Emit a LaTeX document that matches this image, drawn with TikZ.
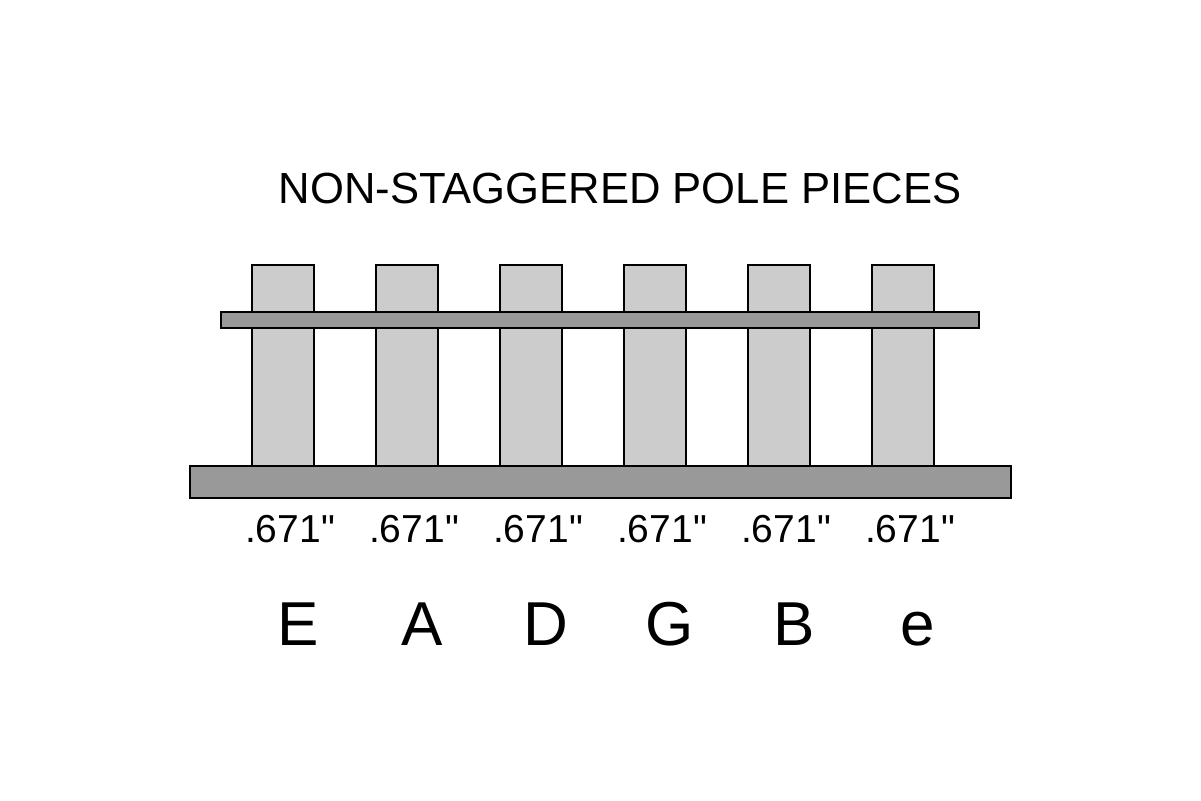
\documentclass[tikz,border=0pt]{standalone}
\usepackage{fontspec}
\setmainfont{Liberation Sans}[Ligatures=TeXOff]
\usepackage{tikz}
\usetikzlibrary{positioning}
\definecolor{polegray}{HTML}{CCCCCC}
\definecolor{bargray}{HTML}{999999}
\tikzstyle{pole} = [draw=black,fill=polegray,line width=0.9pt]
\tikzstyle{bar} = [draw=black,fill=bargray,line width=0.9pt]
\tikzstyle{gap} = [inner sep=0pt,font=\fontsize{19.5}{22}\selectfont]
\tikzstyle{string} = [inner sep=0pt,font=\fontsize{31}{36}\selectfont]

\begin{document}
\begin{tikzpicture}[x=0.5pt,y=-0.5pt]
    \useasboundingbox (0,0) rectangle (1201,800);

    \node [inner sep=0pt,font=\fontsize{21.8}{26}\selectfont] (title) at (620,188) {NON-STAGGERED POLE PIECES};

    % pole pieces
    \foreach \i/\s in {0/E,1/A,2/D,3/G,4/B,5/e} {
      \draw [pole] (252+124*\i,265) rectangle ++(62,201);
      \node [gap] (gap\i) at (290+124*\i,529) {.671"};
      \node [string,anchor=base] (str\s) at (298+124*\i,645) {\s};
    }

    % top plate and base
    \draw [bar] (221,312) rectangle (979,328);
    \draw [bar] (190,466) rectangle (1011,498);
  \end{tikzpicture}
\end{document}
